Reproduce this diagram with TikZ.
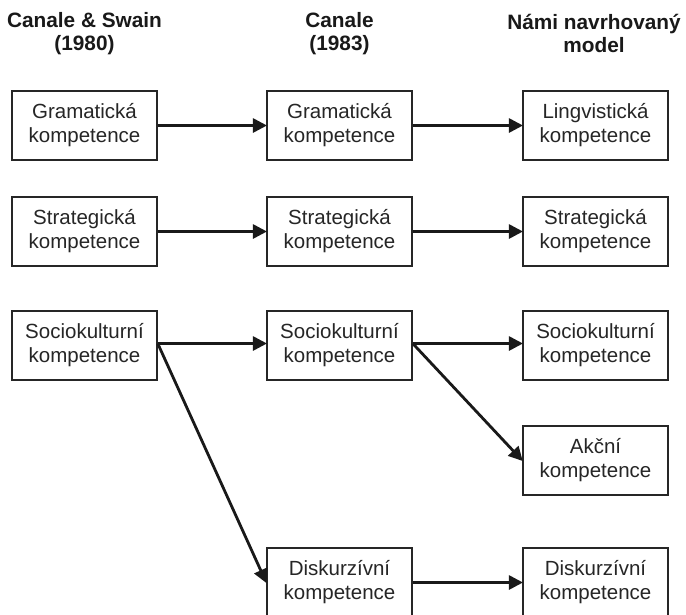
\documentclass[tikz,border=0pt]{standalone}
\usepackage{fontspec}
\setmainfont{Liberation Sans}
\usetikzlibrary{arrows.meta}
\begin{document}
\begin{tikzpicture}[x=1pt,y=-1pt,
  box/.style={draw=black!85, line width=1.5pt, minimum width=145pt, minimum height=69pt,
    inner sep=0pt, align=center, font=\fontsize{20.5}{24}\selectfont, text=black!85},
  hdr/.style={align=center, font=\fontsize{20.8}{22.8}\selectfont\bfseries, text=black!90},
  conn/.style={line width=2.8pt, draw=black!90, -{Triangle[length=14pt,width=14pt]}, shorten >=-0.7pt}
]
\useasboundingbox (0,0) rectangle (686,614);
\fill[white] (0,0) rectangle (686,614);
% headers
\node[hdr] (h1) at (84.5,33.5) {Canale \& Swain\\(1980)};
\node[hdr] (h2) at (339.5,33.5) {Canale\\(1983)};
\node[hdr] (h3) at (594,33.5) {Námi navrhovaný\\model};
% column 1
\node[box] (a1) at (84.5,125.5) {Gramatická\\kompetence};
\node[box] (a2) at (84.5,231.5) {Strategická\\kompetence};
\node[box] (a3) at (84.5,345.5) {Sociokulturní\\kompetence};
% column 2
\node[box] (b1) at (339.5,125.5) {Gramatická\\kompetence};
\node[box] (b2) at (339.5,231.5) {Strategická\\kompetence};
\node[box] (b3) at (339.5,345.5) {Sociokulturní\\kompetence};
\node[box] (b5) at (339.5,582.5) {Diskurzívní\\kompetence};
% column 3
\node[box] (c1) at (595.5,125.5) {Lingvistická\\kompetence};
\node[box] (c2) at (595.5,231.5) {Strategická\\kompetence};
\node[box] (c3) at (595.5,345.5) {Sociokulturní\\kompetence};
\node[box] (c4) at (595.5,460.5) {Akční\\kompetence};
\node[box] (c5) at (595.5,582.5) {Diskurzívní\\kompetence};
% connectors
\draw[conn] (a1.east) -- (b1.west);
\draw[conn] (b1.east) -- (c1.west);
\draw[conn] (a2.east) -- (b2.west);
\draw[conn] (b2.east) -- (c2.west);
\draw[conn] ([yshift=2pt]a3.east) -- ([yshift=2pt]b3.west);
\draw[conn] ([yshift=2pt]b3.east) -- ([yshift=2pt]c3.west);
\draw[conn] ([yshift=2pt]a3.east) -- (b5.west);
\draw[conn] ([yshift=2pt]b3.east) -- (c4.west);
\draw[conn] (b5.east) -- (c5.west);
\end{tikzpicture}
\end{document}
